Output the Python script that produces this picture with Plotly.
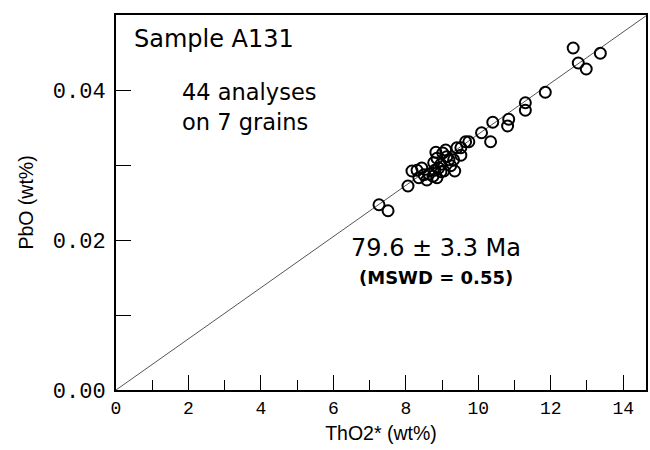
"""PbO vs ThO2* isochron plot for sample A131."""

import plotly.graph_objects as go

# ThO2* (wt%) and PbO (wt%) for the 44 analyses
THO2 = [7.26, 7.51, 8.06, 8.17, 8.36, 8.44, 8.58, 8.64, 8.75, 8.77, 8.83,
        8.86, 8.86, 8.91, 8.97, 8.97, 9.02, 9.05, 9.10, 9.13, 9.19, 9.24,
        9.32, 9.35, 9.41, 9.52, 9.65, 9.52, 9.74, 10.09, 10.34, 10.40,
        10.81, 10.84, 11.30, 11.30, 11.85, 12.62, 12.76, 12.98, 13.37,
        8.80, 8.50, 8.31]
PBO = [0.0247, 0.0239, 0.0272, 0.0292, 0.0283, 0.0296, 0.0280, 0.0288,
       0.0285, 0.0303, 0.0317, 0.0309, 0.0283, 0.0296, 0.0301, 0.0291,
       0.0316, 0.0292, 0.0320, 0.0311, 0.0307, 0.0299, 0.0307, 0.0292,
       0.0323, 0.0323, 0.0331, 0.0313, 0.0331, 0.0343, 0.0331, 0.0357,
       0.0352, 0.0361, 0.0383, 0.0373, 0.0397, 0.0456, 0.0436, 0.0428,
       0.0449, 0.0293, 0.0287, 0.0293]

# regression line through the origin
FIT_X = [0, 14.7]
FIT_SLOPE = 0.00341
FIT_Y = [x * FIT_SLOPE for x in FIT_X]

X_RANGE = [0, 14.63]
Y_RANGE = [0, 0.05]

SANS = "Liberation Sans, Arial, Helvetica"
WIDE = "DejaVu Sans, Verdana, sans-serif"
MONO = "Liberation Mono, DejaVu Sans Mono, Courier New"

fig = go.Figure()
fig.add_trace(go.Scatter(
    x=FIT_X, y=FIT_Y, mode="lines",
    line={"color": "#555555", "width": 1}, hoverinfo="skip",
))
fig.add_trace(go.Scatter(
    x=THO2, y=PBO, mode="markers",
    marker={"symbol": "circle-open", "size": 11, "color": "black",
            "line": {"width": 2, "color": "black"}},
))

axis_common = dict(
    showgrid=False, zeroline=False, showline=True, linewidth=2,
    linecolor="black", mirror=True, ticks="inside", ticklen=15,
    tickwidth=1, tickcolor="black",
)

fig.update_xaxes(
    range=X_RANGE, dtick=2, tick0=0,
    tickfont={"family": MONO, "size": 18, "color": "black"},
    minor={"dtick": 1, "ticklen": 10, "ticks": "inside", "tickcolor": "black"},
    title={"text": "ThO2* (wt%)", "font": {"family": SANS, "size": 19.5, "color": "black"},
           "standoff": 9},
    **axis_common,
)
fig.update_yaxes(
    range=Y_RANGE, dtick=0.02, tick0=0, tickformat=".2f",
    tickfont={"family": MONO, "size": 22, "color": "black"},
    ticklabelstandoff=4,
    minor={"dtick": 0.01, "ticklen": 15, "ticks": "inside", "tickcolor": "black"},
    title={"text": "PbO (wt%)", "font": {"family": SANS, "size": 19.5, "color": "black"},
           "standoff": 14},
    **axis_common,
)

fig.add_annotation(x=0.03, y=0.935, xref="paper", yref="paper", text="Sample A131",
                   showarrow=False, xanchor="left", yanchor="middle",
                   font={"family": WIDE, "size": 24, "color": "black"})
fig.add_annotation(x=0.12, y=0.795, xref="paper", yref="paper", text="44 analyses",
                   showarrow=False, xanchor="left", yanchor="middle",
                   font={"family": WIDE, "size": 22.5, "color": "black"})
fig.add_annotation(x=0.12, y=0.715, xref="paper", yref="paper", text="on 7 grains",
                   showarrow=False, xanchor="left", yanchor="middle",
                   font={"family": WIDE, "size": 22.5, "color": "black"})
fig.add_annotation(x=0.44, y=0.38, xref="paper", yref="paper",
                   text="79.6 ± 3.3 Ma",
                   showarrow=False, xanchor="left", yanchor="middle",
                   font={"family": WIDE, "size": 24, "color": "black"})
fig.add_annotation(x=0.455, y=0.30, xref="paper", yref="paper",
                   text="<b>(MSWD = 0.55)</b>",
                   showarrow=False, xanchor="left", yanchor="middle",
                   font={"family": WIDE, "size": 18, "color": "black"})

fig.update_layout(
    width=650, height=450,
    margin={"l": 116, "r": 2, "t": 15, "b": 60},
    paper_bgcolor="white", plot_bgcolor="white",
    showlegend=False,
)

fig.write_html("out.html", config={"displayModeBar": False},
               post_script="document.body.style.margin = '0';")
